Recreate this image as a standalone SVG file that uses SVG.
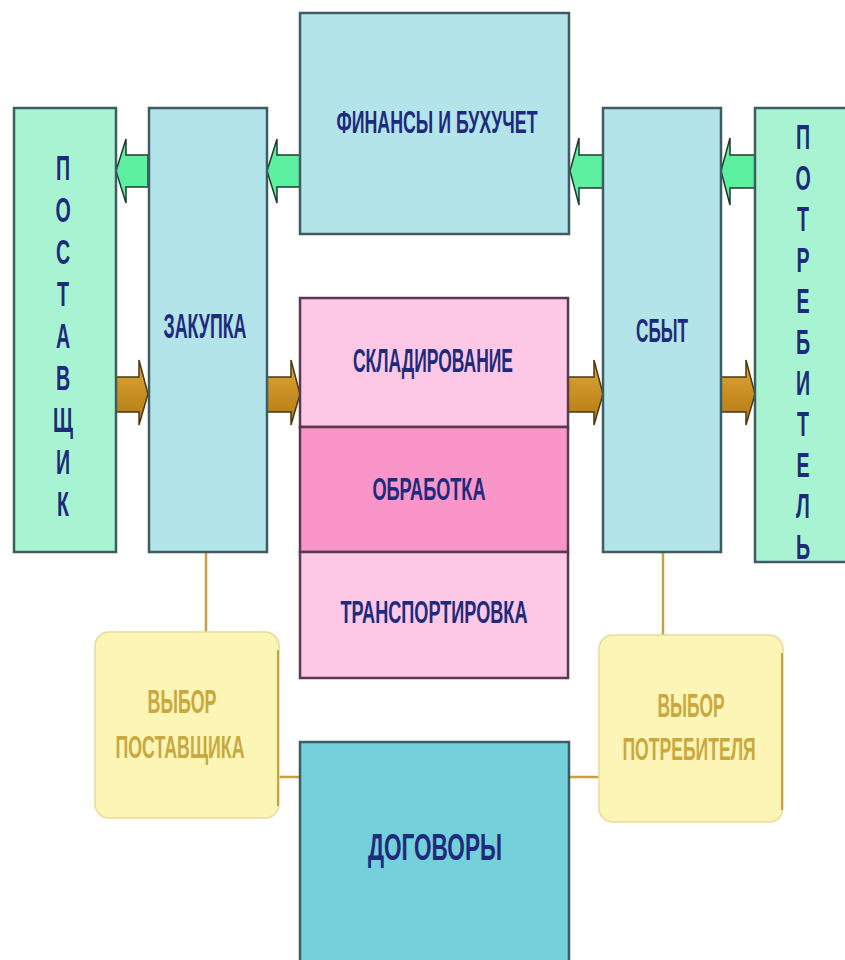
<svg xmlns="http://www.w3.org/2000/svg" width="845" height="960" viewBox="0 0 845 960">
<style>
.box{stroke:#3f5c62;stroke-width:2.5}
.green{fill:#a8f4d2}
.blue{fill:#b2e4ea}
.pink{fill:#fcc8e6;stroke:#5a3a50;stroke-width:2.5}
.pinkd{fill:#f995c9;stroke:#5a3a50;stroke-width:2.5}
.yel{fill:#fdf5b6;stroke:#eadb98;stroke-width:1.5}
.lbl{font-family:"Liberation Sans",Arial,sans-serif;font-weight:bold;fill:#1e2b7a;text-anchor:middle}
.ylbl{font-family:"Liberation Sans",Arial,sans-serif;font-weight:bold;fill:#c9a83e;text-anchor:middle}
.vl{font-family:"Liberation Sans",Arial,sans-serif;font-weight:bold;fill:#1e2b7a;text-anchor:middle;font-size:35px}
.ga{fill:#5cf0a0;stroke:#1f3a2c;stroke-width:1.5}
.ba{fill:url(#bg);stroke:#4a3810;stroke-width:1.5}
.con{stroke:#c9a040;stroke-width:2.5;fill:none}
</style>
<defs>
<linearGradient id="bg" x1="0" y1="0" x2="0" y2="1">
<stop offset="0" stop-color="#e0a838"/>
<stop offset="1" stop-color="#b07810"/>
</linearGradient>
</defs>
<rect width="845" height="960" fill="#ffffff"/>

<g id="connectors">
<line class="con" x1="206" y1="552" x2="206" y2="632"/>
<line class="con" x1="663" y1="552" x2="663" y2="635"/>
<line class="con" x1="279" y1="777" x2="300" y2="777"/>
<line class="con" x1="569" y1="777" x2="599" y2="777"/>
<path class="ga" d="M116,171 L126,139 L126,155 L148,155 L148,187 L126,187 L126,203 Z"/>
<path class="ga" d="M267,171 L277,139 L277,155 L300,155 L300,187 L277,187 L277,203 Z"/>
<path class="ga" d="M570,171 L579,138 L579,155 L603,155 L603,188 L579,188 L579,205 Z"/>
<path class="ga" d="M721,171 L730,138 L730,155 L755,155 L755,188 L730,188 L730,205 Z"/>
<path class="ba" d="M148,394 L139,360 L139,377 L116,377 L116,412 L139,412 L139,425 Z"/>
<path class="ba" d="M300,394 L291,360 L291,377 L267,377 L267,412 L291,412 L291,425 Z"/>
<path class="ba" d="M603,394 L594,360 L594,377 L568,377 L568,412 L594,412 L594,425 Z"/>
<path class="ba" d="M755,394 L746,360 L746,377 L721,377 L721,412 L746,412 L746,425 Z"/>
</g>

<g id="postavshchik">
<rect class="box green" x="14" y="108" width="102" height="444"/>
<g transform="translate(63,0) scale(0.56,1)">
<text class="vl" x="0" y="180"><tspan x="0" y="180">П</tspan><tspan x="0" y="222">О</tspan><tspan x="0" y="264">С</tspan><tspan x="0" y="306">Т</tspan><tspan x="0" y="348">А</tspan><tspan x="0" y="390">В</tspan><tspan x="0" y="432">Щ</tspan><tspan x="0" y="474">И</tspan><tspan x="0" y="516">К</tspan></text>
</g>
</g>

<g id="zakupka">
<rect class="box blue" x="149" y="108" width="118" height="444"/>
<text class="lbl" x="205" y="338" font-size="35" textLength="83" lengthAdjust="spacingAndGlyphs">ЗАКУПКА</text>
</g>

<g id="finansy">
<rect class="box blue" x="300" y="13" width="269" height="221"/>
<text class="lbl" x="437" y="133" font-size="32" textLength="201" lengthAdjust="spacingAndGlyphs">ФИНАНСЫ И БУХУЧЕТ</text>
</g>

<g id="sbyt">
<rect class="box blue" x="603" y="108" width="118" height="444"/>
<text class="lbl" x="662" y="342" font-size="33" textLength="52" lengthAdjust="spacingAndGlyphs">СБЫТ</text>
</g>

<g id="potrebitel">
<rect class="box green" x="755" y="108" width="95" height="454"/>
<g transform="translate(803,0) scale(0.56,1)">
<text class="vl" x="0" y="149"><tspan x="0" y="149">П</tspan><tspan x="0" y="190">О</tspan><tspan x="0" y="231">Т</tspan><tspan x="0" y="272">Р</tspan><tspan x="0" y="313">Е</tspan><tspan x="0" y="354">Б</tspan><tspan x="0" y="395">И</tspan><tspan x="0" y="436">Т</tspan><tspan x="0" y="477">Е</tspan><tspan x="0" y="518">Л</tspan><tspan x="0" y="559">Ь</tspan></text>
</g>
</g>

<g id="skladirovanie">
<rect class="pink" x="300" y="298" width="268" height="129"/>
<text class="lbl" x="433" y="372" font-size="33" textLength="160" lengthAdjust="spacingAndGlyphs">СКЛАДИРОВАНИЕ</text>
</g>

<g id="obrabotka">
<rect class="pinkd" x="300" y="427" width="268" height="125"/>
<text class="lbl" x="429" y="500" font-size="32" textLength="113" lengthAdjust="spacingAndGlyphs">ОБРАБОТКА</text>
</g>

<g id="transportirovka">
<rect class="pink" x="300" y="552" width="268" height="126"/>
<text class="lbl" x="434" y="623" font-size="32" textLength="187" lengthAdjust="spacingAndGlyphs">ТРАНСПОРТИРОВКА</text>
</g>

<g id="vybor-postavshchika">
<rect class="yel" x="95" y="632" width="184" height="186" rx="14"/>
<line x1="278" y1="650" x2="278" y2="806" stroke="#c9a040" stroke-width="2"/>
<g transform="translate(182,713) scale(0.6,1)"><text class="ylbl" x="0" y="0" font-size="34" textLength="115" lengthAdjust="spacingAndGlyphs">ВЫБОР</text></g>
<g transform="translate(180,758) scale(0.6,1)"><text class="ylbl" x="0" y="0" font-size="31" textLength="215" lengthAdjust="spacingAndGlyphs">ПОСТАВЩИКА</text></g>
</g>

<g id="vybor-potrebitelya">
<rect class="yel" x="599" y="635" width="184" height="187" rx="14"/>
<line x1="782" y1="653" x2="782" y2="810" stroke="#c9a040" stroke-width="2"/>
<g transform="translate(691,717) scale(0.6,1)"><text class="ylbl" x="0" y="0" font-size="34" textLength="112" lengthAdjust="spacingAndGlyphs">ВЫБОР</text></g>
<g transform="translate(689,760) scale(0.6,1)"><text class="ylbl" x="0" y="0" font-size="31" textLength="222" lengthAdjust="spacingAndGlyphs">ПОТРЕБИТЕЛЯ</text></g>
</g>

<g id="dogovory">
<rect class="box" fill="#74d0da" x="300" y="742" width="269" height="230"/>
<text class="lbl" x="435" y="860" font-size="37" textLength="134" lengthAdjust="spacingAndGlyphs">ДОГОВОРЫ</text>
</g>
</svg>
